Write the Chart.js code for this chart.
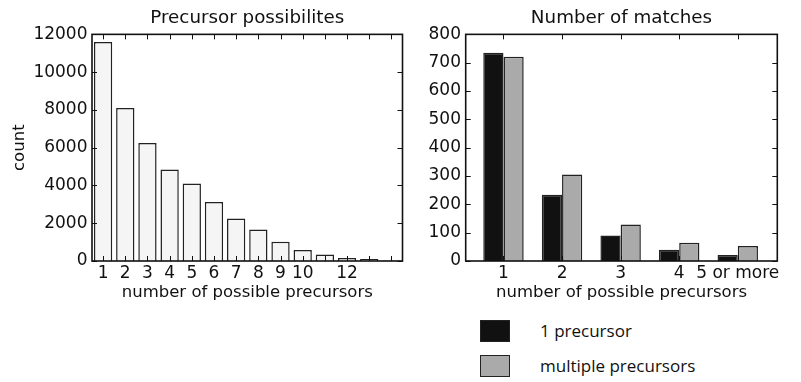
<!DOCTYPE html>
<html>
<head>
<meta charset="utf-8">
<script src="https://cdn.jsdelivr.net/npm/chart.js@4"></script>
<style>
  body { margin: 0; background: #fff; width: 801px; height: 382px; position: relative; overflow: hidden; }
  canvas { position: absolute; top: 0; }
  #leftChart { left: 0; }
  #rightChart { left: 406px; }
  .legItem { position: absolute; left: 480px; font: 17px "Open Sans", sans-serif; color: #111; }
  .legBox { position: absolute; left: 0; width: 28px; height: 20px; border: 1.5px solid #222; }
  .legText { position: absolute; left: 60px; top: -1px; white-space: nowrap; line-height: 23px; }
</style>
</head>
<body>
<canvas id="leftChart" width="406" height="305"></canvas>
<canvas id="rightChart" width="395" height="305"></canvas>
<div class="legItem" style="top:320px"><div class="legBox" style="background:#111"></div><div class="legText">1 precursor</div></div>
<div class="legItem" style="top:355px"><div class="legBox" style="background:#aaa"></div><div class="legText">multiple precursors</div></div>
<script>
// Left chart: how many possible precursors per spectrum
const possLabels = ['1', '2', '3', '4', '5', '6', '7', '8', '9', '10', '', '12', '', ''];
const possCounts = [11600, 8100, 6250, 4850, 4100, 3130, 2250, 1670, 1020, 580, 350, 160, 100, 30];
const possTicks = [0, 2000, 4000, 6000, 8000, 10000, 12000];

// Right chart: number of matches
const matchCats = ['1', '2', '3', '4', '5 or more'];
const onePrecursor = [735, 234, 90, 40, 21];
const multiPrecursor = [721, 305, 129, 64, 53];

Chart.defaults.font.family = '"DejaVu Sans", sans-serif';
Chart.defaults.color = '#111';

// matplotlib style: full frame + ticks pointing inwards on all sides
const innerTicks = {
  id: 'innerTicks',
  afterDraw(chart) {
    const { ctx, chartArea: a, scales: { x, y } } = chart;
    ctx.save();
    ctx.strokeStyle = '#111';
    ctx.lineWidth = 1;
    ctx.beginPath();
    x.ticks.forEach((t, i) => {
      const px = Math.round(x.getPixelForTick(i)) + 0.5;
      ctx.moveTo(px, a.bottom); ctx.lineTo(px, a.bottom - 5);
      ctx.moveTo(px, a.top); ctx.lineTo(px, a.top + 5);
    });
    y.ticks.forEach((t, i) => {
      const py = Math.round(y.getPixelForTick(i)) + 0.5;
      ctx.moveTo(a.left, py); ctx.lineTo(a.left + 5, py);
      ctx.moveTo(a.right, py); ctx.lineTo(a.right - 5, py);
    });
    ctx.stroke();
    ctx.lineWidth = 1.6;
    ctx.strokeRect(a.left, a.top, a.right - a.left, a.bottom - a.top);
    ctx.restore();
  }
};

function baseTitle(text) {
  return { display: true, fullSize: false, text: text, font: { size: 18.3, weight: 'normal' }, color: '#111', padding: { top: 7, bottom: 5.4 } };
}

const noGrid = { display: false, drawTicks: false, tickLength: 0 };

const leftChart = new Chart(document.getElementById('leftChart'), {
  type: 'bar',
  data: {
    labels: possLabels,
    datasets: [{
      data: possCounts,
      backgroundColor: '#f5f5f5',
      borderColor: '#222',
      borderWidth: 1.5,
      barPercentage: 0.825,
      categoryPercentage: 1
    }]
  },
  options: {
    responsive: false,
    animation: false,
    devicePixelRatio: 1,
    layout: { padding: { left: 0, right: 3.5, top: 0, bottom: 0 } },
    plugins: { legend: { display: false }, tooltip: { enabled: false }, title: baseTitle('Precursor possibilites') },
    scales: {
      x: {
        grid: noGrid,
        border: { display: false },
        ticks: { autoSkip: false, maxRotation: 0, padding: 2, font: { size: 17 } },
        title: { display: true, text: 'number of possible precursors', font: { size: 16.5 }, padding: { bottom: 2.1 } },
        afterFit: s => { s.height = 44; }
      },
      y: {
        min: 0, max: 12000,
        grid: noGrid,
        border: { display: false },
        afterBuildTicks: s => { s.ticks = possTicks.map(v => ({ value: v })); },
        ticks: { padding: 4.5, font: { size: 17 }, callback: v => String(v) },
        title: { display: true, text: 'count', font: { size: 16.5 }, padding: { top: 10 } },
        afterFit: s => { s.width = 92; }
      }
    }
  },
  plugins: [innerTicks]
});

const rightChart = new Chart(document.getElementById('rightChart'), {
  type: 'bar',
  data: {
    datasets: [{
      label: '1 precursor',
      data: matchCats.map((c, i) => ({ x: i, y: onePrecursor[i] })),
      backgroundColor: '#111',
      borderColor: '#222',
      borderWidth: 1.5,
      barPercentage: 1,
      categoryPercentage: 0.69
    }, {
      label: 'multiple precursors',
      data: matchCats.map((c, i) => ({ x: i, y: multiPrecursor[i] })),
      backgroundColor: '#aaa',
      borderColor: '#222',
      borderWidth: 1.5,
      barPercentage: 1,
      categoryPercentage: 0.69
    }]
  },
  options: {
    responsive: false,
    animation: false,
    devicePixelRatio: 1,
    layout: { padding: { left: 0, right: 23.7, top: 0, bottom: 0 } },
    plugins: { legend: { display: false }, tooltip: { enabled: false }, title: baseTitle('Number of matches') },
    scales: {
      x: {
        type: 'linear',
        min: -0.645, max: 4.675,
        offset: false,
        grid: noGrid,
        border: { display: false },
        afterBuildTicks: s => { s.ticks = matchCats.map((c, i) => ({ value: i })); },
        ticks: { autoSkip: false, maxRotation: 0, padding: 2, font: { size: 17 }, callback: v => matchCats[v] },
        title: { display: true, text: 'number of possible precursors', font: { size: 16.5 }, padding: { bottom: 2.1 } },
        afterFit: s => { s.height = 44; }
      },
      y: {
        min: 0, max: 800,
        grid: noGrid,
        border: { display: false },
        ticks: { stepSize: 100, padding: 4.7, font: { size: 17 }, callback: v => String(v) },
        afterFit: s => { s.width = 59.7; }
      }
    }
  },
  plugins: [innerTicks]
});
</script>
</body>
</html>
